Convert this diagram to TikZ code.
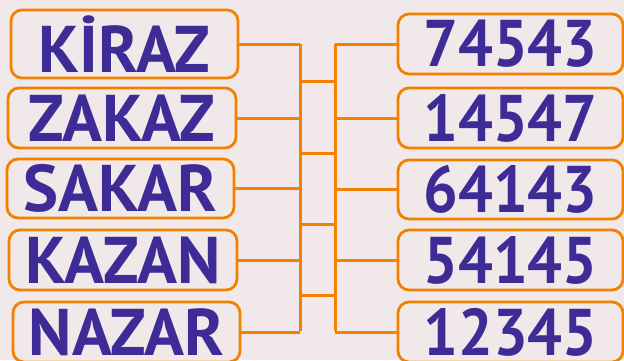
\documentclass[tikz,border=0pt]{standalone}
\usepackage{fontspec}
\usepackage{graphicx}
\setmainfont{PT Sans}
\definecolor{bg}{HTML}{F0E8E9}
\definecolor{frame}{HTML}{F28100}
\definecolor{ink}{HTML}{3D2B96}
\newcommand{\narrownum}[1]{\scalebox{0.93}[1]{#1}}
\begin{document}
\begin{tikzpicture}[x=1pt,y=-1pt,
  card/.style={draw=frame, line width=2.8pt, rounded corners=11pt, inner sep=0pt,
    text=ink, font=\fontsize{66}{66}\selectfont\bfseries},
  wire/.style={draw=frame, line width=3pt}]
\fill[bg] (0,0) rectangle (624,360);
\clip (0,0) rectangle (624,360);
\useasboundingbox (0,0) rectangle (624,360);
% words on the left
\node[card, minimum width=227pt, minimum height=68pt] (w1) at (124.5,44) {KİRAZ};
\node[card, minimum width=228pt, minimum height=60pt] (w2) at (122,118) {ZAKAZ};
\node[card, minimum width=227pt, minimum height=59pt] (w3) at (120.5,188.5) {SAKAR};
\node[card, minimum width=228pt, minimum height=60pt] (w4) at (123,260) {KAZAN};
\node[card, minimum width=227pt, minimum height=60pt] (w5) at (126.5,332) {NAZAR};
% numbers on the right
\node[card, minimum width=225pt, minimum height=60pt] (n1) at (510.5,44) {\narrownum{74543}};
\node[card, minimum width=225pt, minimum height=60pt] (n2) at (510.5,118) {\narrownum{14547}};
\node[card, minimum width=225pt, minimum height=59pt] (n3) at (510.5,189.5) {\narrownum{64143}};
\node[card, minimum width=225pt, minimum height=60pt] (n4) at (510.5,260) {\narrownum{54145}};
\node[card, minimum width=225pt, minimum height=60pt] (n5) at (510.5,332) {\narrownum{12345}};
% the two bus lines
\coordinate (la) at (300,44);
\coordinate (lb) at (300,331);
\coordinate (ra) at (335,44);
\coordinate (rb) at (335,331);
\draw[wire] (la) -- (lb);
\draw[wire] (ra) -- (rb);
\foreach \i in {1,...,5} {
  \draw[wire] (w\i.east) -- (w\i.east -| la);
  \draw[wire] (n\i.west) -- (n\i.west -| ra);
}
\foreach \y in {81,153,224,295} {
  \draw[wire] (la |- 0,\y) -- (ra |- 0,\y);
}
\end{tikzpicture}
\end{document}
